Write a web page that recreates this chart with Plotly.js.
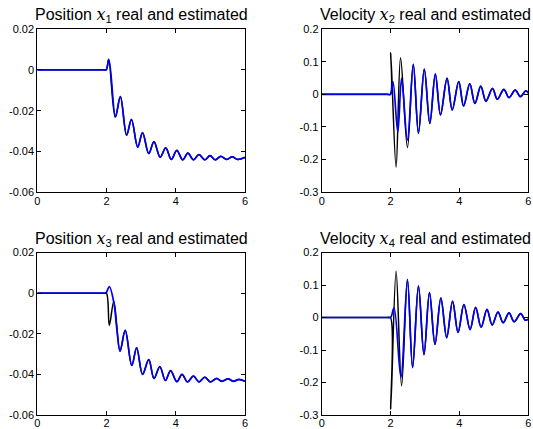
<!DOCTYPE html>
<html>
<head>
<meta charset="utf-8">
<script src="https://cdn.plot.ly/plotly-3.0.1.min.js"></script>
<style>html,body{margin:0;padding:0;background:#fff;}#chart{width:533px;height:429px;}</style>
</head>
<body>
<div id="chart"></div>
<script>
// ---------- data ----------
const titles = [
  'Position <i style="font-family:DejaVu Serif">x</i><sub>1</sub> real and estimated',
  'Velocity <i style="font-family:DejaVu Serif">x</i><sub>2</sub> real and estimated',
  'Position <i style="font-family:DejaVu Serif">x</i><sub>3</sub> real and estimated',
  'Velocity <i style="font-family:DejaVu Serif">x</i><sub>4</sub> real and estimated'
];
const xTicks = [0, 2, 4, 6];
const xTickText = ['0', '2', '4', '6'];
const posTicks = [0.02, 0, -0.02, -0.04, -0.06];
const posTickText = ['0.02', '0', '-0.02', '-0.04', '-0.06'];
const velTicks = [0.2, 0.1, 0, -0.1, -0.2, -0.3];
const velTickText = ['0.2', '0.1', '0', '-0.1', '-0.2', '-0.3'];

// x1
const t1Real = [0, 1.9, 1.99, 2.06, 2.25, 2.40, 2.58, 2.72, 2.90, 3.04, 3.22, 3.37, 3.55, 3.71, 3.87, 4.03, 4.20, 4.35, 4.51, 4.67, 4.84, 4.99, 5.14, 5.30, 5.47, 5.63, 5.79, 6.0];
const x1Real = [0, 0, 0, 0.0052, -0.0232, -0.0131, -0.032, -0.0243, -0.0379, -0.0308, -0.041, -0.0352, -0.0428, -0.0382, -0.0439, -0.0395, -0.0441, -0.0408, -0.0441, -0.0415, -0.0441, -0.042, -0.0441, -0.0424, -0.0439, -0.0426, -0.0439, -0.0429];
const t1Est = [0, 1.9, 1.99, 2.07, 2.26, 2.40, 2.58, 2.72, 2.90, 3.04, 3.22, 3.37, 3.55, 3.71, 3.87, 4.03, 4.20, 4.35, 4.51, 4.67, 4.84, 4.99, 5.14, 5.30, 5.47, 5.63, 5.79, 6.0];
const x1Est = [0, 0, 0, 0.0049, -0.023, -0.0131, -0.032, -0.0243, -0.0379, -0.0308, -0.041, -0.0352, -0.0428, -0.0382, -0.0439, -0.0395, -0.0441, -0.0408, -0.0441, -0.0415, -0.0441, -0.042, -0.0441, -0.0424, -0.0439, -0.0426, -0.0439, -0.0429];

// x2
const t2Real = [0, 1.9, 1.995, 2.005, 2.16, 2.29, 2.49, 2.66, 2.81, 2.98, 3.14, 3.30, 3.45, 3.64, 3.79, 3.98, 4.12, 4.30, 4.45, 4.62, 4.77, 4.96, 5.10, 5.29, 5.44, 5.62, 5.77, 5.93, 6.0];
const x2Real = [0, 0, 0, 0.127, -0.223, 0.112, -0.163, 0.092, -0.119, 0.077, -0.089, 0.062, -0.063, 0.049, -0.048, 0.039, -0.036, 0.032, -0.028, 0.025, -0.021, 0.018, -0.015, 0.015, -0.010, 0.013, -0.007, 0.011, 0.004];
const t2Est = [0, 1.9, 2.0, 2.07, 2.21, 2.32, 2.49, 2.66, 2.81, 2.98, 3.14, 3.30, 3.45, 3.64, 3.79, 3.98, 4.12, 4.30, 4.45, 4.62, 4.77, 4.96, 5.10, 5.29, 5.44, 5.62, 5.77, 5.93, 6.0];
const x2Est = [0, 0, 0, 0.039, -0.116, 0.049, -0.140, 0.092, -0.119, 0.077, -0.089, 0.062, -0.063, 0.049, -0.048, 0.039, -0.036, 0.032, -0.028, 0.025, -0.021, 0.018, -0.015, 0.015, -0.010, 0.013, -0.007, 0.011, 0.004];

// x3
const t3Real = [0, 1.9, 1.995, 2.08, 2.21, 2.39, 2.54, 2.73, 2.87, 3.04, 3.22, 3.37, 3.54, 3.70, 3.85, 4.03, 4.18, 4.34, 4.51, 4.67, 4.84, 5.00, 5.18, 5.33, 5.51, 5.66, 5.83, 6.0];
const x3Real = [0, 0, 0, -0.0159, -0.0041, -0.0286, -0.0183, -0.0356, -0.0269, -0.040, -0.0327, -0.042, -0.0362, -0.043, -0.0382, -0.0436, -0.040, -0.0437, -0.0408, -0.0437, -0.0414, -0.0437, -0.042, -0.0434, -0.0422, -0.0434, -0.0425, -0.0434];
const t3Est = [0, 1.9, 1.98, 2.08, 2.21, 2.30, 2.39, 2.54, 2.73, 2.87, 3.04, 3.22, 3.37, 3.54, 3.70, 3.85, 4.03, 4.18, 4.34, 4.51, 4.67, 4.84, 5.00, 5.18, 5.33, 5.51, 5.66, 5.83, 6.0];
const x3Est = [0, 0, 0, 0.0032, -0.0045, -0.018, -0.0286, -0.0183, -0.0356, -0.0269, -0.040, -0.0327, -0.042, -0.0362, -0.043, -0.0382, -0.0436, -0.040, -0.0437, -0.0408, -0.0437, -0.0414, -0.0437, -0.042, -0.0434, -0.0422, -0.0434, -0.0425, -0.0434];

// x4
const t4Real = [0, 1.9, 1.995, 2.005, 2.16, 2.32, 2.49, 2.64, 2.81, 2.97, 3.13, 3.29, 3.46, 3.63, 3.80, 3.96, 4.13, 4.31, 4.47, 4.63, 4.80, 4.95, 5.12, 5.27, 5.44, 5.59, 5.78, 5.91, 6.0];
const x4Real = [0, 0, 0, -0.282, 0.142, -0.210, 0.118, -0.154, 0.097, -0.114, 0.077, -0.083, 0.060, -0.062, 0.050, -0.046, 0.040, -0.037, 0.031, -0.030, 0.025, -0.023, 0.017, -0.016, 0.014, -0.013, 0.012, -0.008, -0.005];
const t4Est = [0, 1.9, 2.0, 2.10, 2.30, 2.49, 2.64, 2.81, 2.97, 3.13, 3.29, 3.46, 3.63, 3.80, 3.96, 4.13, 4.31, 4.47, 4.63, 4.80, 4.95, 5.12, 5.27, 5.44, 5.59, 5.78, 5.91, 6.0];
const x4Est = [0, 0, 0, 0.030, -0.183, 0.115, -0.154, 0.097, -0.114, 0.077, -0.083, 0.060, -0.062, 0.050, -0.046, 0.040, -0.037, 0.031, -0.030, 0.025, -0.023, 0.017, -0.016, 0.014, -0.013, 0.012, -0.008, -0.005];

// ---------- build ----------
const W = 533, H = 429;
const colL = [37.3 / W, 245 / W], colR = [321.7 / W, 528.3 / W];
const rowT = [1 - 192.3 / H, 1 - 29 / H], rowB = [1 - 415 / H, 1 - 252.5 / H];
const realColor = '#000000', estColor = '#0000f0';

const panels = [
  {t: [t1Real, t1Est], y: [x1Real, x1Est], xd: colL, yd: rowT, range: [-0.06, 0.02], tv: posTicks, tt: posTickText},
  {t: [t2Real, t2Est], y: [x2Real, x2Est], xd: colR, yd: rowT, range: [-0.3, 0.2], tv: velTicks, tt: velTickText},
  {t: [t3Real, t3Est], y: [x3Real, x3Est], xd: colL, yd: rowB, range: [-0.06, 0.02], tv: posTicks, tt: posTickText},
  {t: [t4Real, t4Est], y: [x4Real, x4Est], xd: colR, yd: rowB, range: [-0.3, 0.2], tv: velTicks, tt: velTickText}
];

const data = [];
const layout = {
  width: W, height: H,
  margin: {l: 0, r: 0, t: 0, b: 0},
  paper_bgcolor: '#fff', plot_bgcolor: '#fff',
  showlegend: false,
  font: {family: 'Liberation Sans, Arial, sans-serif', color: '#000', size: 11},
  annotations: []
};

panels.forEach((p, i) => {
  const n = i + 1;
  const xa = 'x' + (n === 1 ? '' : n), ya = 'y' + (n === 1 ? '' : n);
  const xk = 'xaxis' + (n === 1 ? '' : n), yk = 'yaxis' + (n === 1 ? '' : n);
  data.push({x: p.t[0], y: p.y[0], xaxis: xa, yaxis: ya, mode: 'lines', line: {color: realColor, width: 1.5, shape: 'spline', smoothing: 1}, hoverinfo: 'skip'});
  data.push({x: p.t[1], y: p.y[1], xaxis: xa, yaxis: ya, mode: 'lines', line: {color: estColor, width: 1.7, shape: 'spline', smoothing: 1}, hoverinfo: 'skip'});
  layout[xk] = {domain: p.xd, anchor: ya, range: [0, 6], tickmode: 'array', tickvals: xTicks, ticktext: xTickText,
    ticks: 'inside', ticklen: 4, tickcolor: '#000', showline: true, linecolor: '#000', linewidth: 1, mirror: 'ticks',
    showgrid: false, zeroline: false, tickfont: {size: 11}, ticklabelstandoff: -2, fixedrange: true};
  layout[yk] = {domain: p.yd, anchor: xa, range: p.range, tickmode: 'array', tickvals: p.tv, ticktext: p.tt,
    ticks: 'inside', ticklen: 4, tickcolor: '#000', showline: true, linecolor: '#000', linewidth: 1, mirror: 'ticks',
    showgrid: false, zeroline: false, tickfont: {size: 11}, fixedrange: true};
  layout.annotations.push({
    text: titles[i], xref: 'paper', yref: 'paper',
    x: (p.xd[0] + p.xd[1]) / 2, y: p.yd[1] + 14 / H, xanchor: 'center', yanchor: 'middle',
    showarrow: false, font: {size: 16, color: '#000'}
  });
});

Plotly.newPlot('chart', data, layout, {staticPlot: true, displayModeBar: false});
</script>
</body>
</html>
